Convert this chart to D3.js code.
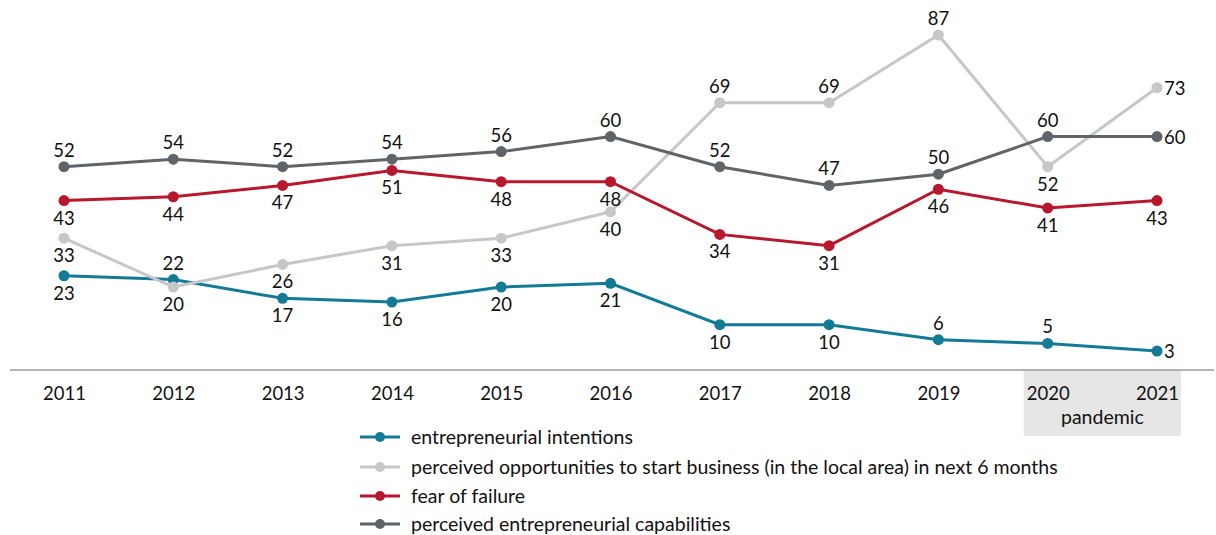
<!DOCTYPE html>
<html>
<head>
<meta charset="utf-8">
<script src="https://cdn.jsdelivr.net/npm/d3@7"></script>
<style>
  html, body { margin: 0; padding: 0; background: #fff; }
  svg text { font-family: Lato, "Open Sans", sans-serif; fill: #111; }
</style>
</head>
<body>
<svg id="chart" width="1216" height="535"></svg>
<script>
// Years on the x axis
const years = ["2011","2012","2013","2014","2015","2016","2017","2018","2019","2020","2021"];

// Survey indicators, % of adult population
const intentions    = [23, 22, 17, 16, 20, 21, 10, 10, 6, 5, 3];
const opportunities = [33, 20, 26, 31, 33, 40, 69, 69, 87, 52, 73];
const fearOfFailure = [43, 44, 47, 51, 48, 48, 34, 31, 46, 41, 43];
const capabilities  = [52, 54, 52, 54, 56, 60, 52, 47, 50, 60, 60];

// Label placement for each point: a = above, b = below, r = right
const intentionsPos    = ["b","a","b","b","b","b","b","b","a","a","r"];
const opportunitiesPos = ["b","b","b","b","b","b","a","a","a","b","r"];
const fearPos          = ["b","b","b","b","b","b","b","b","b","b","b"];
const capabilitiesPos  = ["a","a","a","a","a","a","a","a","a","a","r"];

const seriesNames = [
  "entrepreneurial intentions",
  "perceived opportunities to start business (in the local area) in next 6 months",
  "fear of failure",
  "perceived entrepreneurial capabilities"
];
const seriesColors = ["#137b96", "#c6c7c9", "#b8182d", "#5e6468"];

const pandemicYears = ["2020", "2021"];

const series = [
  { name: seriesNames[0], values: intentions,    pos: intentionsPos,    color: seriesColors[0] },
  { name: seriesNames[1], values: opportunities, pos: opportunitiesPos, color: seriesColors[1] },
  { name: seriesNames[2], values: fearOfFailure, pos: fearPos,          color: seriesColors[2] },
  { name: seriesNames[3], values: capabilities,  pos: capabilitiesPos,  color: seriesColors[3] }
];

const numFont = "18.5px";
const wordFont = "19.5px";

const svg = d3.select("#chart");

const x = d3.scalePoint().domain(years).range([64, 1157]);
const y = d3.scaleLinear().domain([3, 87]).range([351, 35]);

// Shaded band behind the pandemic years
const bandLeft = x(pandemicYears[0]) - 24;
const bandRight = x(pandemicYears[pandemicYears.length - 1]) + 24;
svg.append("rect")
  .attr("x", bandLeft).attr("y", 370)
  .attr("width", bandRight - bandLeft).attr("height", 66)
  .attr("fill", "#e6e6e6");

// Baseline
svg.append("line")
  .attr("x1", 10).attr("x2", 1214)
  .attr("y1", 370).attr("y2", 370)
  .attr("stroke", "#9a9a9a").attr("stroke-width", 1.5);

// Year labels via an axis without ticks/domain
const xAxis = svg.append("g")
  .attr("transform", "translate(0,370)")
  .call(d3.axisBottom(x).tickSize(0).tickPadding(17));
xAxis.select(".domain").remove();
xAxis.selectAll("text")
  .style("font-family", "Lato, 'Open Sans', sans-serif")
  .style("font-size", numFont)
  .attr("fill", "#111");

svg.append("text")
  .attr("x", (bandLeft + bandRight) / 2).attr("y", 424)
  .attr("text-anchor", "middle")
  .style("font-size", wordFont)
  .text("pandemic");

const line = d3.line().x((d, i) => x(years[i])).y(d => y(d));

// Draw lines, markers, then labels (in series order; later ones on top)
series.forEach(s => {
  svg.append("path")
    .datum(s.values)
    .attr("fill", "none")
    .attr("stroke", s.color)
    .attr("stroke-width", 3)
    .attr("d", line);
});
series.forEach(s => {
  svg.append("g").selectAll("circle")
    .data(s.values)
    .join("circle")
    .attr("cx", (d, i) => x(years[i]))
    .attr("cy", d => y(d))
    .attr("r", 5.5)
    .attr("fill", s.color);
});
series.forEach(s => {
  svg.append("g").selectAll("text")
    .data(s.values)
    .join("text")
    .attr("x", (d, i) => s.pos[i] === "r" ? x(years[i]) + 7 : x(years[i]))
    .attr("y", (d, i) => {
      const p = s.pos[i];
      if (p === "a") return y(d) - 10;
      if (p === "b") return y(d) + 24;
      return y(d) + 7;
    })
    .attr("text-anchor", (d, i) => s.pos[i] === "r" ? "start" : "middle")
    .style("font-size", numFont)
    .text(d => d);
});

// Legend
const legend = svg.append("g");
const legendRows = [437, 467, 496, 524];
series.forEach((s, i) => {
  const g = legend.append("g").attr("transform", `translate(0,${legendRows[i]})`);
  g.append("line")
    .attr("x1", 360).attr("x2", 400)
    .attr("y1", 0).attr("y2", 0)
    .attr("stroke", s.color).attr("stroke-width", 3);
  g.append("circle").attr("cx", 380).attr("cy", 0).attr("r", 5).attr("fill", s.color);
  g.append("text")
    .attr("x", 411).attr("y", 7)
    .style("font-size", wordFont)
    .text(s.name);
});
</script>
</body>
</html>
